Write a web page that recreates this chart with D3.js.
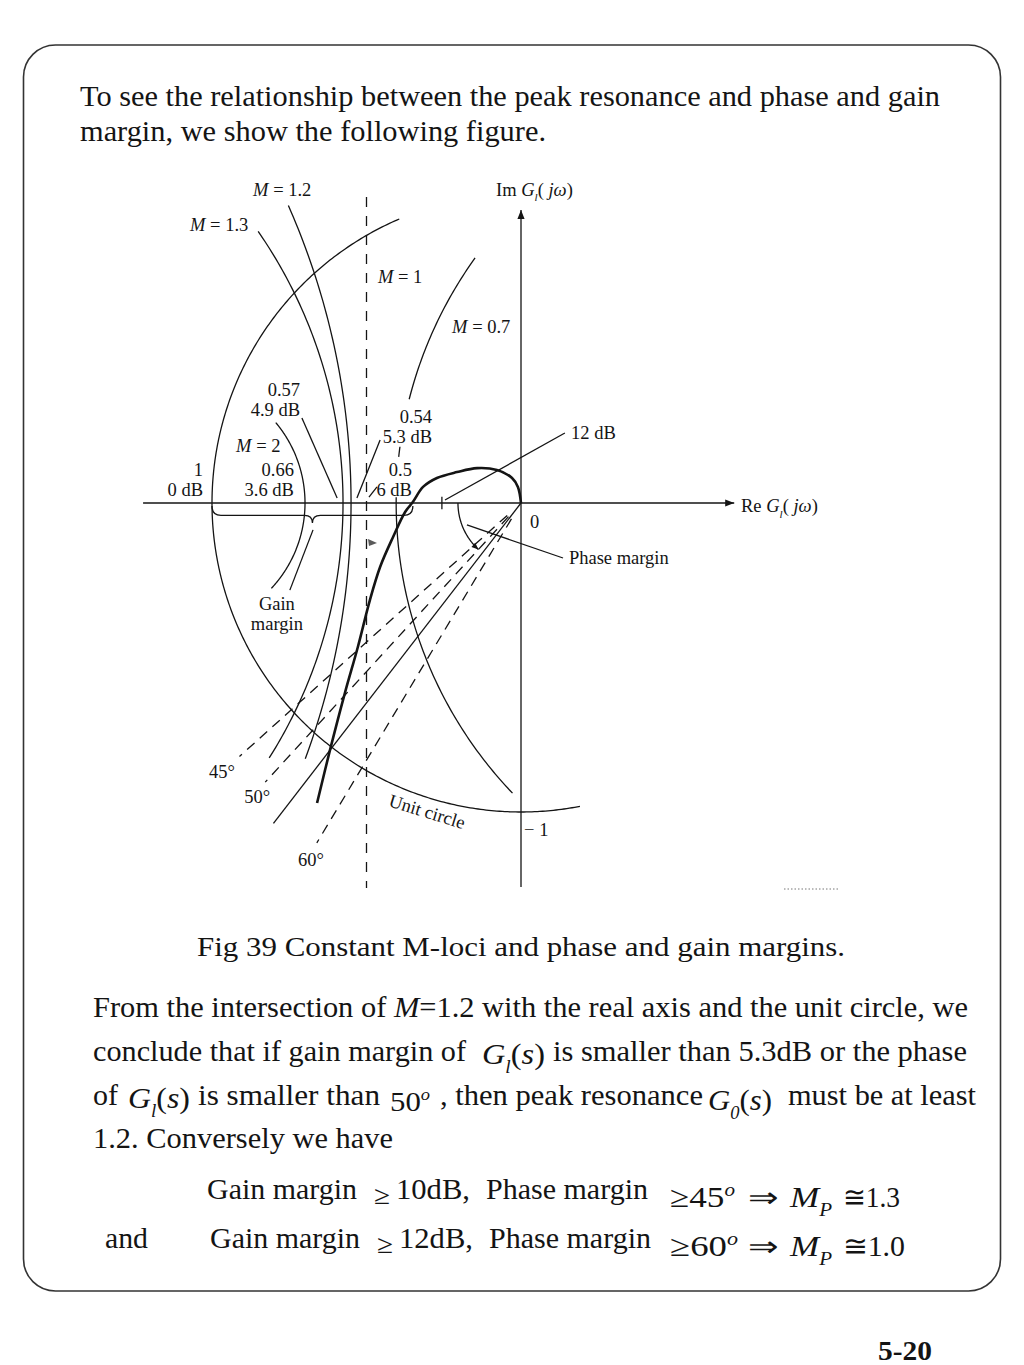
<!DOCTYPE html>
<html>
<head>
<meta charset="utf-8">
<script src="https://cdn.jsdelivr.net/npm/d3@7"></script>
<style>
  body { margin: 0; background: #fff; }
  text { font-family: "Liberation Serif", "Times New Roman", Times, serif; fill: #141414; }
</style>
</head>
<body>
<svg id="chart" width="1024" height="1365"></svg>
<script>
// G_l(jw) polar plot (real / imaginary parts)
const nyqRe = [0, -0.010, -0.029, -0.078, -0.142, -0.207, -0.272, -0.317, -0.350, -0.375, -0.414, -0.456, -0.489, -0.528, -0.570, -0.618, -0.660];
const nyqIm = [0, 0.052, 0.081, 0.107, 0.113, 0.100, 0.081, 0.052, 0.003, -0.029, -0.110, -0.207, -0.314, -0.466, -0.615, -0.799, -0.971];

// constant M loci as drawn (centre on real axis, radius, visible arcs in degrees)
const mValues = [2, 1.3, 1.2, 0.7];
const mCentres = [-1.104, -2.12, -2.935, 0.955];
const mRadii = [0.405, 1.544, 2.385, 1.359];
const mArcs = [[[-43, 40]], [[-32.3, 34.7]], [[-20.3, 23.8]], [[144.3, 165.7], [172.3, 173.7], [179.2, 223.7]]];
const mOneRe = -0.5;            // M = 1 is the straight line Re = -1/2
const mOneIm = [-1.246, 0.99];

const unitArc = [113.2, 281];   // unit circle, degrees

// phase lines from the origin (angle below the negative real axis)
const phaseNames = ["45°", "50°", "", "60°"];
const phaseAngles = [42, 47.5, 52.3, 59];
const phaseLength = [1.226, 1.225, 1.31, 1.283];
const phaseDashed = [true, true, false, true];
const phaseArc = [0.204, 47.6];  // radius, sweep of the phase-margin arrow

const reAxis = [-1.223, 0.69];
const imAxis = [-1.243, 0.948];
const gainBrace = [-1, -0.35];
const tick12dB = -0.256;

// labels: text, re, im, anchor
const labelText = ["Im *G*_{l}( *jω*)", "Re *G*_{l}( *jω*)", "0", "− 1",
  "*M* = 1.2", "*M* = 1.3", "*M* = 1", "*M* = 0.7",
  "0.57", "4.9 dB", "*M* = 2", "1", "0 dB", "0.66", "3.6 dB",
  "0.54", "5.3 dB", "0.5", "6 dB", "12 dB", "Phase margin", "Gain", "margin",
  "45°", "50°", "60°"];
const labelRe = [-0.081, 0.712, 0.029, 0.01, -0.867, -1.071, -0.463, -0.223,
  -0.715, -0.715, -0.922, -1.029, -1.029, -0.735, -0.735,
  -0.288, -0.288, -0.353, -0.353, 0.162, 0.155, -0.790, -0.790,
  -0.968, -0.854, -0.680];
const labelIm = [0.994, -0.029, -0.081, -1.078, 0.994, 0.880, 0.712, 0.550,
  0.346, 0.282, 0.165, 0.087, 0.023, 0.087, 0.023,
  0.259, 0.194, 0.087, 0.023, 0.207, -0.197, -0.346, -0.411,
  -0.890, -0.971, -1.175];
const labelAnchor = ["start", "start", "start", "start", "start", "start", "start", "start",
  "end", "end", "start", "end", "end", "end", "end",
  "end", "end", "end", "end", "start", "start", "middle", "middle",
  "middle", "middle", "middle"];

// leader lines [re0, im0, re1, im1]
const leaders = [
  [-0.709, 0.275, -0.595, 0.016],
  [-0.456, 0.204, -0.531, 0.016],
  [-0.466, 0.052, -0.492, 0.019],
  [0.142, 0.2265, -0.246, 0.0097],
  [0.136, -0.178, -0.175, -0.071],
  [-0.673, -0.087, -0.748, -0.282]
];

const svg = d3.select("#chart");
const ink = "#141414";

const x = d3.scaleLinear().domain([-1, 0]).range([212, 521]);
const y = d3.scaleLinear().domain([-1, 0]).range([812, 503]);
const line = d3.line().x(d => x(d[0])).y(d => y(d[1]));

function arcPoints(cx, r, a0, a1) {
  let n = Math.max(6, Math.ceil(Math.abs(a1 - a0) * 2));
  return d3.range(n + 1).map(i => {
    let t = (a0 + (a1 - a0) * i / n) * Math.PI / 180;
    return [cx + r * Math.cos(t), r * Math.sin(t)];
  });
}

// tiny markup: *italic*, _{sub}, ^{sup}
function rich(parent, px, py, str, size, anchor) {
  let t = parent.append("text")
    .attr("x", px).attr("y", py)
    .attr("text-anchor", anchor || "start")
    .style("font-size", size + "px");
  let shift = 0;
  str.split(/(\*[^*]+\*|_\{[^}]+\}|\^\{[^}]+\})/).filter(s => s.length).forEach(s => {
    let txt = s, it = false, want = 0, small = false;
    if (s[0] == "*") { txt = s.slice(1, -1); it = true; }
    else if (s[0] == "_") { txt = s.slice(2, -1); it = true; want = size * 0.3; small = true; }
    else if (s[0] == "^") { txt = s.slice(2, -1); it = true; want = -size * 0.38; small = true; }
    let ts = t.append("tspan").attr("dy", want - shift).text(txt);
    shift = want;
    if (it) ts.style("font-style", "italic");
    if (small) ts.style("font-size", (size * 0.6) + "px");
  });
  return t;
}

// slide frame
svg.append("rect")
  .attr("x", 23.5).attr("y", 45).attr("width", 977).attr("height", 1246)
  .attr("rx", 32).attr("ry", 32)
  .attr("fill", "none").attr("stroke", "#333").attr("stroke-width", 1.6);

const defs = svg.append("defs");
defs.append("marker")
  .attr("id", "arrow").attr("viewBox", "0 0 10 10")
  .attr("refX", 10).attr("refY", 5)
  .attr("markerWidth", 11).attr("markerHeight", 9)
  .attr("markerUnits", "userSpaceOnUse").attr("orient", "auto")
  .append("path").attr("d", "M0,1L10,5L0,9Z").attr("fill", ink);
defs.append("marker")
  .attr("id", "arrowSmall").attr("viewBox", "0 0 10 10")
  .attr("refX", 10).attr("refY", 5)
  .attr("markerWidth", 8).attr("markerHeight", 7)
  .attr("markerUnits", "userSpaceOnUse").attr("orient", "auto")
  .append("path").attr("d", "M0,1L10,5L0,9Z").attr("fill", ink);

const fig = svg.append("g")
  .attr("fill", "none").attr("stroke", ink).attr("stroke-width", 1.3);

// axes
fig.append("path")
  .attr("d", line([[reAxis[0], 0], [reAxis[1], 0]]))
  .attr("marker-end", "url(#arrow)");
fig.append("path")
  .attr("d", line([[0, imAxis[0]], [0, imAxis[1]]]))
  .attr("marker-end", "url(#arrow)");

// unit circle
fig.append("path").attr("d", line(arcPoints(0, 1, unitArc[0], unitArc[1])));

// M circles
mValues.forEach((m, i) => {
  mArcs[i].forEach(a => {
    fig.append("path").attr("d", line(arcPoints(mCentres[i], mRadii[i], a[0], a[1])));
  });
});

// M = 1 line
fig.append("path")
  .attr("d", line([[mOneRe, mOneIm[1]], [mOneRe, mOneIm[0]]]))
  .attr("stroke-dasharray", "10,9");

// phase lines
phaseAngles.forEach((a, i) => {
  let t = a * Math.PI / 180;
  let r0 = phaseDashed[i] ? 0.06 : 0;
  fig.append("path")
    .attr("d", line([[-r0 * Math.cos(t), -r0 * Math.sin(t)],
                     [-phaseLength[i] * Math.cos(t), -phaseLength[i] * Math.sin(t)]]))
    .attr("stroke-dasharray", phaseDashed[i] ? "10,7" : null);
});

// phase margin arrow
fig.append("path")
  .attr("d", line(arcPoints(0, phaseArc[0], 180, 180 + phaseArc[1])))
  .attr("marker-end", "url(#arrowSmall)");

// leaders and 12 dB tick
leaders.forEach(l => {
  fig.append("path").attr("d", line([[l[0], l[1]], [l[2], l[3]]]));
});
fig.append("path").attr("d", line([[tick12dB, -0.02], [tick12dB, 0.02]]));

// gain margin brace
{
  let x0 = x(gainBrace[0]), x1 = x(gainBrace[1]), xm = (x0 + x1) / 2;
  let y0 = y(-0.01), yb = y(-0.04), yt = y(-0.065);
  fig.append("path").attr("d",
    `M${x0},${y0} Q${x0},${yb} ${x0 + 9},${yb} L${xm - 8},${yb} Q${xm},${yb} ${xm},${yt}` +
    ` Q${xm},${yb} ${xm + 8},${yb} L${x1 - 9},${yb} Q${x1},${yb} ${x1},${y0}`);
}

// G_l(jw)
fig.append("path")
  .datum(nyqRe.map((r, i) => [r, nyqIm[i]]))
  .attr("d", line.curve(d3.curveCatmullRom))
  .attr("stroke-width", 2.6);
line.curve(d3.curveLinear);

// small stray marks of the print
svg.append("path").attr("d", "M368,539L377,543L369,546Z").attr("fill", ink).attr("opacity", 0.7);
svg.append("line").attr("x1", 784).attr("x2", 840).attr("y1", 889).attr("y2", 889)
  .attr("stroke", "#777").attr("stroke-width", 1).attr("stroke-dasharray", "1.5,2");

// figure labels
const lab = svg.append("g");
labelText.forEach((s, i) => {
  rich(lab, x(labelRe[i]), y(labelIm[i]), s, 18.5, labelAnchor[i]);
});
rich(lab, 0, 0, "Unit circle", 18.5, "middle")
  .attr("transform", `translate(${x(-0.31)},${y(-1.018)}) rotate(17)`);

// slide text
const body = svg.append("g");
function fit(t, x0, x1) {
  if (x1) t.attr("textLength", x1 - x0).attr("lengthAdjust", "spacingAndGlyphs");
  return t;
}
function put(str, x0, x1, base, size, italic) {
  let t = body.append("text").attr("x", x0).attr("y", base)
    .style("font-size", size + "px").text(str);
  if (italic) t.style("font-style", "italic");
  return fit(t, x0, x1);
}
function math(str, x0, x1, base, size) {
  return fit(rich(body, x0, base, str, size), x0, x1);
}

put("To see the relationship between the peak resonance and phase and gain", 80, 940, 106, 30);
put("margin, we show the following figure.", 80, 546, 141, 30);
put("Fig  39  Constant M-loci and phase and gain margins.", 197, 845, 956, 28);

math("From the intersection of *M*=1.2 with the real axis and the unit circle, we", 93, 968, 1017, 29);

put("conclude that if gain margin of", 93, 466, 1061, 29);
math("*G*_{l}(*s*)", 482, 545, 1064, 30);
put("is smaller than 5.3dB or the phase", 553, 967, 1061, 29);

put("of", 93, 118, 1105, 29);
math("*G*_{l}(*s*)", 128, 190, 1108, 30);
put("is smaller than", 198, 380, 1105, 29);
math("50^{o}", 390, 430, 1111, 28);
put(", then peak resonance", 440, 703, 1105, 29);
math("*G*_{0}(*s*)", 708, 772, 1110, 30);
put("must be at least", 788, 976, 1105, 29);

put("1.2. Conversely we have", 93, 393, 1148, 29);

const rows = [[1199, 1207, "10dB,", "45", "1.3", 207], [1248, 1256, "12dB,", "60", "1.0", 210]];
rows.forEach(r => {
  put("Gain margin", r[5], r[5] + 150, r[0], 29);
  put("≥", r[5] + 167, r[5] + 183, r[0] + 5, 26);
  put(r[2], r[5] + 189, r[5] + 263, r[0], 29);
  put("Phase margin", r[5] + 279, r[5] + 441, r[0], 29);
  math("≥" + r[3] + "^{o}", 670, r[3] == "45" ? 735 : 738, r[1], 30);
  put("⇒", 748, 778, r[1], 28);
  math("*M*_{P}", 790, 832, r[1], 30);
  put("≅" + r[4], 843, r[4] == "1.3" ? 900 : 905, r[1], 29);
});
put("and", 105, 148, 1248, 29);

put("5-20", 878, 932, 1360, 27).style("font-weight", "bold");
</script>
</body>
</html>
